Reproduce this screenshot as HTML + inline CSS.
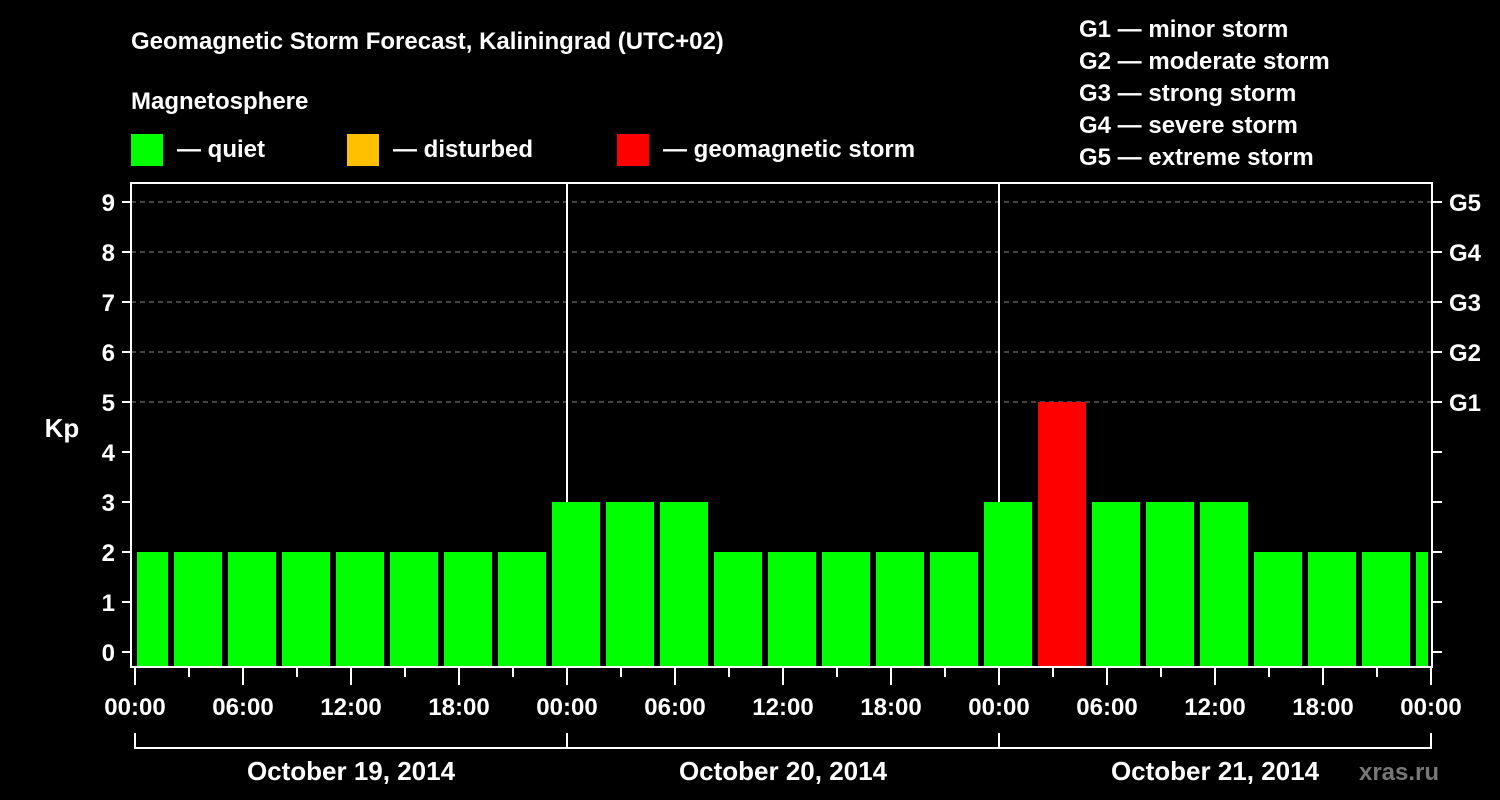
<!DOCTYPE html>
<html><head><meta charset="utf-8"><style>
html,body{margin:0;padding:0;background:#000;}
svg{display:block;font-family:"Liberation Sans",sans-serif;font-weight:bold;}
</style></head><body>
<svg id="chart" width="1500" height="800" viewBox="0 0 1500 800">
<rect x="0" y="0" width="1500" height="800" fill="#000"/>
<text x="131" y="49" font-size="24" fill="#fff">Geomagnetic Storm Forecast, Kaliningrad (UTC+02)</text>
<text x="131" y="109" font-size="24" fill="#fff">Magnetosphere</text>
<g>
<rect x="131" y="134" width="32" height="32" fill="#00ff00"/>
<text x="177" y="157" font-size="24" fill="#fff">— quiet</text></g>
<g>
<rect x="347" y="134" width="32" height="32" fill="#ffc000"/>
<text x="393" y="157" font-size="24" fill="#fff">— disturbed</text></g>
<g>
<rect x="617" y="134" width="32" height="32" fill="#ff0000"/>
<text x="663" y="157" font-size="24" fill="#fff">— geomagnetic storm</text></g>
<g font-size="24" fill="#fff">
<text x="1079" y="37">G1 — minor storm</text>
<text x="1079" y="69">G2 — moderate storm</text>
<text x="1079" y="101">G3 — strong storm</text>
<text x="1079" y="133">G4 — severe storm</text>
<text x="1079" y="165">G5 — extreme storm</text>
</g>
<text x="62" y="437" font-size="26" fill="#fff" text-anchor="middle">Kp</text>
<g id="grid"></g>
<g id="bars"></g>
<g id="axes"></g>
<text x="1399" y="780" font-size="24" fill="#777" text-anchor="middle">xras.ru</text>
</svg>
<script>
const kpValues=[2,2,2,2,2,2,2,2,3,3,3,2,2,2,2,2,3,5,3,3,3,2,2,2,2];
const barStartHours=-1;
const yTickLabels=["0","1","2","3","4","5","6","7","8","9"];
const gLevels=[5,6,7,8,9];
const gLabels=["G1","G2","G3","G4","G5"];
const xTickLabels=["00:00","06:00","12:00","18:00","00:00","06:00","12:00","18:00","00:00","06:00","12:00","18:00","00:00"];
const dayLabels=["October 19, 2014","October 20, 2014","October 21, 2014"];

const NS="http://www.w3.org/2000/svg";
const X0=135,PXH=18,Y0=652,PXK=50,LEFT=131,RIGHT=1432,TOP=183,BOTTOM=667;
const xs=h=>X0+h*PXH, ys=v=>Y0-v*PXK;
function mk(tag,attrs,parent,txt){const e=document.createElementNS(NS,tag);for(const k in attrs)e.setAttribute(k,attrs[k]);if(txt!==undefined)e.textContent=txt;parent.appendChild(e);return e;}
const grid=document.getElementById('grid'),bars=document.getElementById('bars'),axes=document.getElementById('axes');

for(let v=6;v<=9;v++){ // dashed grid at higher levels
}
for(let i=5;i<=9;i++){
  const l=mk('line',{x1:LEFT,x2:RIGHT,y1:ys(i),y2:ys(i),stroke:'#888','stroke-width':1,'stroke-dasharray':'5,4'},grid);
  
  
}
[1,2].forEach(d=>{
  const l=mk('line',{x1:xs(24*d),x2:xs(24*d),y1:TOP,y2:BOTTOM,stroke:'#fff','stroke-width':2},grid);
  
  
});
const maxX=xs(72);
kpValues.forEach((v,i)=>{
  const h0=barStartHours+3*i;
  let x1=xs(h0)+3, x2=xs(h0+3)-3;
  x1=Math.max(x1,LEFT+6); x2=Math.min(x2,RIGHT-4);
  const col=v>=5?'#ff0000':(v>=4?'#ffc000':'#00ff00');
  const r=mk('rect',{x:x1,y:ys(v),width:x2-x1,height:BOTTOM-ys(v),fill:col},bars);
  
  
});
const fr=mk('rect',{x:LEFT,y:TOP,width:RIGHT-LEFT,height:BOTTOM-TOP,fill:'none',stroke:'#fff','stroke-width':2},axes);


yTickLabels.forEach((t,i)=>{
  const l=mk('line',{x1:122,x2:LEFT,y1:ys(i),y2:ys(i),stroke:'#fff','stroke-width':2},axes);
  
  
  const r=mk('line',{x1:RIGHT,x2:1442,y1:ys(i),y2:ys(i),stroke:'#fff','stroke-width':2},axes);
  
  
  const tx=mk('text',{x:115,y:ys(i)+9,'font-size':24,fill:'#fff','text-anchor':'end'},axes,t);
  
  
});
gLevels.forEach((v,i)=>{
  const tx=mk('text',{x:1449,y:ys(v)+9,'font-size':24,fill:'#fff'},axes,gLabels[i]);
  
  
});
for(let h=0;h<=72;h+=3){
  const major=h%6===0;
  const l=mk('line',{x1:xs(h),x2:xs(h),y1:BOTTOM,y2:major?685:677,stroke:'#fff','stroke-width':2},axes);
  
  
}
xTickLabels.forEach((t,i)=>{
  const tx=mk('text',{x:xs(i*6),y:715,'font-size':24,fill:'#fff','text-anchor':'middle'},axes,t);
  
  
});
const br=mk('line',{x1:xs(0),x2:xs(72),y1:748,y2:748,stroke:'#fff','stroke-width':2},axes);


for(let d=0;d<=3;d++){
  const l=mk('line',{x1:xs(24*d),x2:xs(24*d),y1:733,y2:749,stroke:'#fff','stroke-width':2},axes);
  
  
}
dayLabels.forEach((t,i)=>{
  const tx=mk('text',{x:xs(24*i+12),y:780,'font-size':26,fill:'#fff','text-anchor':'middle'},axes,t);
  
  
});
</script>
</body></html>
